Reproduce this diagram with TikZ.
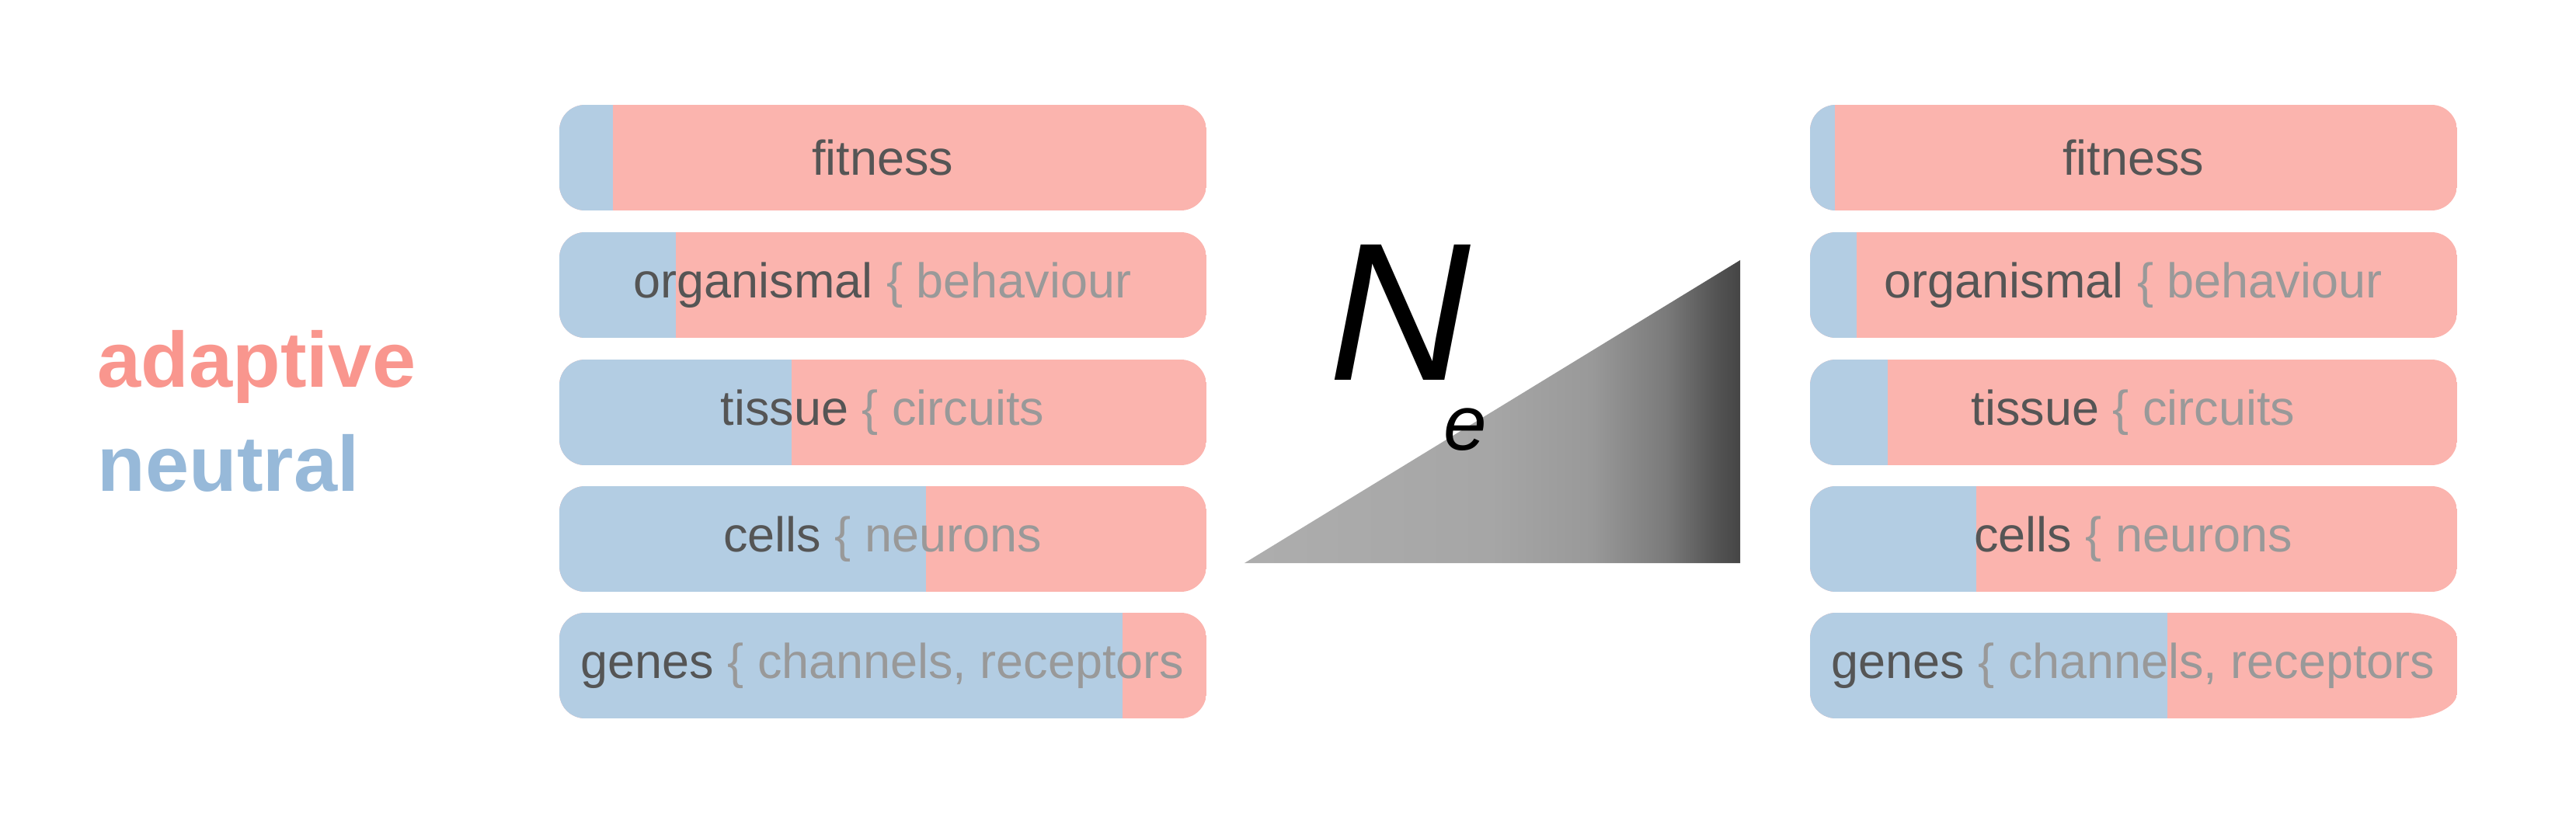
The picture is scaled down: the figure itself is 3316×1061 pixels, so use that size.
\documentclass[tikz,border=0pt]{standalone}
\usepackage{fontspec}
\setmainfont{Liberation Sans}
\definecolor{barred}{HTML}{FBB4AE}
\definecolor{barblue}{HTML}{B3CDE3}
\definecolor{adapt}{HTML}{F9968E}
\definecolor{neut}{HTML}{97B9D9}
\definecolor{dk}{HTML}{555555}
\definecolor{lt}{HTML}{999999}
\pgfdeclarehorizontalshading{negrad}{100bp}{color(0bp)=(black!32); color(25bp)=(black!32); color(50bp)=(black!35); color(60bp)=(black!40); color(67.5bp)=(black!52); color(72.5bp)=(black!67); color(75bp)=(black!73); color(100bp)=(black!73)}
\newcommand\levelbar[4]{%
  \begin{scope}
    \clip[rounded corners=0.33cm] (#1,#3) rectangle (#2,#3+136);
    \fill[barred] (#1,#3) rectangle (#2,#3+136);
    \fill[barblue] (#1,#3) rectangle (#4,#3+136);
  \end{scope}}
\begin{document}
\begin{tikzpicture}[x=0.01cm,y=-0.01cm,
  bartext/.style={inner sep=0, font=\fontsize{17.9pt}{20pt}\selectfont, text=dk},
  legendtext/.style={anchor=base west, inner sep=0, font=\bfseries\fontsize{28.7pt}{32pt}\selectfont}]
\useasboundingbox (0,0) rectangle (3316,1061);
% left column
\levelbar{720}{1553}{135}{789}
\levelbar{720}{1553}{299}{870}
\levelbar{720}{1553}{463}{1019}
\levelbar{720}{1553}{626}{1192}
\levelbar{720}{1553}{789}{1445}
% right column
\levelbar{2330}{3163}{135}{2362}
\levelbar{2330}{3163}{299}{2390}
\levelbar{2330}{3163}{463}{2430}
\levelbar{2330}{3163}{626}{2544}
\begin{scope}
  \clip (2363,789) -- (3096,789) .. controls (3133,789) and (3163,804) .. (3163,822) -- (3163,892) .. controls (3163,910) and (3133,925) .. (3096,925) -- (2363,925) .. controls (2345,925) and (2330,910) .. (2330,892) -- (2330,822) .. controls (2330,804) and (2345,789) .. (2363,789) -- cycle;
  \fill[barred] (2330,789) rectangle (3163,925);
  \fill[barblue] (2330,789) rectangle (2790,925);
\end{scope}
% texts left
\node[bartext] (lfit) at (1136,203) {fitness};
\node[bartext] (lorg) at (1136,367) {organismal \color{lt}\{ behaviour};
\node[bartext] (ltis) at (1136,531) {tissue \color{lt}\{ circuits};
\node[bartext] (lcel) at (1136,694) {cells \color{lt}\{ neurons};
\node[bartext] (lgen) at (1136,857) {genes \color{lt}\{ channels, receptors};
% texts right
\node[bartext] (rfit) at (2746,203) {fitness};
\node[bartext] (rorg) at (2746,367) {organismal \color{lt}\{ behaviour};
\node[bartext] (rtis) at (2746,531) {tissue \color{lt}\{ circuits};
\node[bartext] (rcel) at (2746,694) {cells \color{lt}\{ neurons};
\node[bartext] (rgen) at (2746,857) {genes \color{lt}\{ channels, receptors};
% legend
\node[legendtext, text=adapt] (adaptive) at (125,498) {adaptive};
\node[legendtext, text=neut] (neutral) at (125,632) {neutral};
% triangle
\shade[shading=negrad] (1602,725) -- (2240,725) -- (2240,335) -- cycle;
\node[anchor=base west, inner sep=0, font=\fontsize{72pt}{80pt}\selectfont\itshape] (N) at (1710,489) {N};
\node[anchor=base west, inner sep=0, font=\fontsize{28.4pt}{32pt}\selectfont\itshape] (e) at (1858,579) {e};
\end{tikzpicture}
\end{document}
